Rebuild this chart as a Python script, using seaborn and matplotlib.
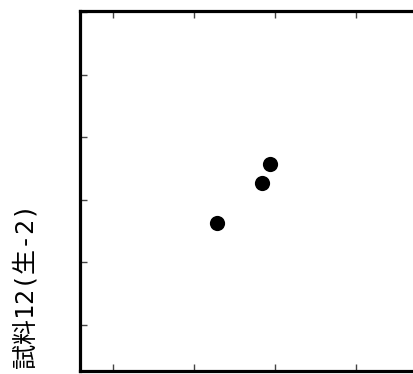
import pandas as pd
import matplotlib
matplotlib.use("Agg")
import matplotlib.pyplot as plt
import seaborn as sns

# data (no tick labels shown, units arbitrary)
x_vals = [2.28, 2.84, 2.94]
y_vals = [2.63, 3.27, 3.58]
x_ticks = [1, 2, 3, 4, 5]
y_ticks = [1, 2, 3, 4, 5, 6]
y_label = "試料12(生-2)"

df = pd.DataFrame({"x": x_vals, "y": y_vals})

sns.set_style("ticks")
plt.rcParams['font.family'] = ['DejaVu Sans Mono', 'Noto Sans CJK JP']

fig = plt.figure(figsize=(4.14, 3.74), dpi=100)
# axes runs off the right edge like the reference
ax = fig.add_axes([80 / 414, 3 / 374, 357.7 / 414, 360 / 374])

sns.scatterplot(data=df, x="x", y="y", ax=ax, color="black", s=120,
                edgecolor="black", linewidth=0, clip_on=False)

ax.set_xlim(0.6, 5.0)
ax.set_ylim(0.264, 6.02)
ax.set_xticks(x_ticks)
ax.set_yticks(y_ticks)
ax.set_xticklabels([])
ax.set_yticklabels([])
ax.tick_params(direction="in", length=5, width=1, color="#444444",
               top=True, bottom=True, left=True, right=False)
for side in ["left", "right", "top", "bottom"]:
    ax.spines[side].set_linewidth(2.3)
    ax.spines[side].set_color("black")
ax.set_xlabel("")
ax.set_ylabel("")

# label is cut off at the bottom edge in the reference
fig.text(25 / 414, 1 - 203 / 374, y_label, rotation=90, ha="center",
         va="top", fontsize=18, color="black")

fig.savefig("out.png", dpi=100)
